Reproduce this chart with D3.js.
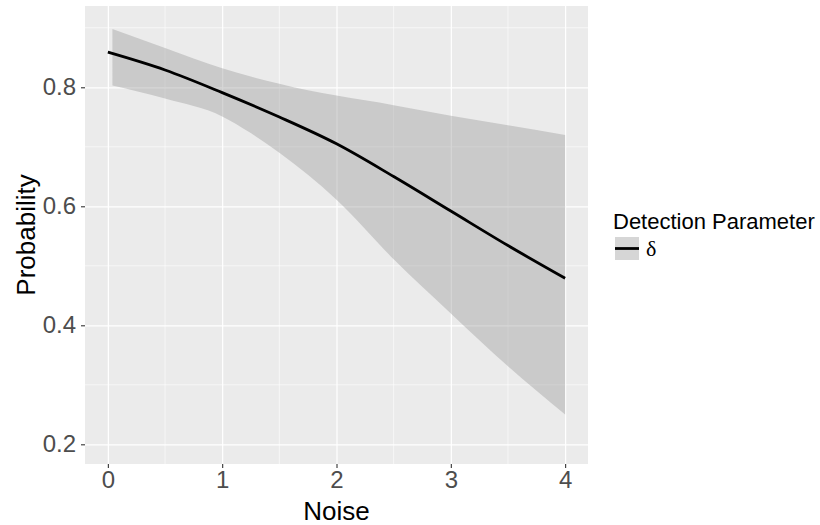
<!DOCTYPE html>
<html>
<head>
<meta charset="utf-8">
<script src="https://cdn.jsdelivr.net/npm/d3@7"></script>
<style>
  body { margin: 0; background: #fff; }
  svg { display: block; font-family: "Liberation Sans", Arial, sans-serif; }
</style>
</head>
<body>
<div id="chart"></div>
<script>
const width = 820;
const height = 525;

// fitted line (Noise -> Probability)
const lineNoise = [0, 0.5, 1, 1.5, 2, 2.5, 3, 3.5, 4];
const lineProb = [0.859, 0.829, 0.791, 0.750, 0.705, 0.650, 0.592, 0.534, 0.479];

// confidence band
const bandNoise = [0.04, 0.5, 1, 1.25, 1.5, 1.75, 2, 2.5, 3, 3.5, 4];
const bandUpper = [0.898, 0.866, 0.832, 0.818, 0.806, 0.795, 0.786, 0.770, 0.752, 0.736, 0.720];
const bandLower = [0.803, 0.781, 0.751, 0.723, 0.690, 0.653, 0.611, 0.511, 0.420, 0.331, 0.250];

const xTicks = [0, 1, 2, 3, 4];
const xMinor = [0.5, 1.5, 2.5, 3.5];
const yTicks = [0.2, 0.4, 0.6, 0.8];
const yMinor = [0.3, 0.5, 0.7, 0.9];

const legendTitle = 'Detection Parameter';
const legendLabel = 'δ';

const panel = { left: 85, right: 588, top: 6, bottom: 464 };

const x = d3.scaleLinear().domain([-0.2, 4.2]).range([panel.left, panel.right]);
const y = d3.scaleLinear().domain([0.1669, 0.9366]).range([panel.bottom, panel.top]);

const svg = d3.select('#chart')
  .append('svg')
  .attr('width', width)
  .attr('height', height);

// panel background
svg.append('rect')
  .attr('x', panel.left)
  .attr('y', panel.top)
  .attr('width', panel.right - panel.left)
  .attr('height', panel.bottom - panel.top)
  .attr('fill', '#EBEBEB');

// grid lines
const grid = svg.append('g');
grid.selectAll('.xminor').data(xMinor).join('line')
  .attr('x1', d => x(d)).attr('x2', d => x(d))
  .attr('y1', panel.top).attr('y2', panel.bottom)
  .attr('stroke', '#fff').attr('stroke-width', 0.6);
grid.selectAll('.yminor').data(yMinor).join('line')
  .attr('y1', d => y(d)).attr('y2', d => y(d))
  .attr('x1', panel.left).attr('x2', panel.right)
  .attr('stroke', '#fff').attr('stroke-width', 0.6);

const gx = svg.append('g')
  .attr('transform', `translate(0,${panel.bottom})`)
  .call(d3.axisBottom(x).tickValues(xTicks).tickFormat(d3.format('d'))
    .tickSizeInner(-(panel.bottom - panel.top)).tickSizeOuter(0).tickPadding(0));
gx.select('.domain').remove();
gx.selectAll('.tick line').attr('stroke', '#fff').attr('stroke-width', 1.2);
gx.selectAll('.tick text').remove();

const gy = svg.append('g')
  .attr('transform', `translate(${panel.left},0)`)
  .call(d3.axisLeft(y).tickValues(yTicks).tickFormat(d3.format('.1f'))
    .tickSizeInner(-(panel.right - panel.left)).tickSizeOuter(0));
gy.select('.domain').remove();
gy.selectAll('.tick line').attr('stroke', '#fff').attr('stroke-width', 1.2);
gy.selectAll('.tick text').remove();

// ribbon
const bandData = bandNoise.map((n, i) => ({ n, lo: bandLower[i], hi: bandUpper[i] }));
svg.append('path')
  .datum(bandData)
  .attr('fill', '#999999')
  .attr('fill-opacity', 0.4)
  .attr('d', d3.area().x(d => x(d.n)).y0(d => y(d.lo)).y1(d => y(d.hi)).curve(d3.curveMonotoneX));

// fitted line
const lineData = lineNoise.map((n, i) => ({ n, p: lineProb[i] }));
svg.append('path')
  .datum(lineData)
  .attr('fill', 'none')
  .attr('stroke', '#000')
  .attr('stroke-width', 2.8)
  .attr('d', d3.line().x(d => x(d.n)).y(d => y(d.p)).curve(d3.curveMonotoneX));

// outside axes (ticks + labels)
const axX = svg.append('g')
  .attr('transform', `translate(0,${panel.bottom})`)
  .call(d3.axisBottom(x).tickValues(xTicks).tickFormat(d3.format('d')).tickSize(4).tickPadding(3));
axX.select('.domain').remove();
axX.selectAll('.tick line').attr('stroke', '#333').attr('stroke-width', 1.1);
axX.selectAll('.tick text')
  .attr('fill', '#4D4D4D')
  .style('font-size', '24px')
  .style('font-family', '"Liberation Sans", Arial, sans-serif');

const axY = svg.append('g')
  .attr('transform', `translate(${panel.left},0)`)
  .call(d3.axisLeft(y).tickValues(yTicks).tickFormat(d3.format('.1f')).tickSize(4).tickPadding(5));
axY.select('.domain').remove();
axY.selectAll('.tick line').attr('stroke', '#333').attr('stroke-width', 1.1);
axY.selectAll('.tick text')
  .attr('fill', '#4D4D4D')
  .style('font-size', '24px')
  .style('font-family', '"Liberation Sans", Arial, sans-serif');

// axis titles
svg.append('text')
  .attr('x', (panel.left + panel.right) / 2)
  .attr('y', 520)
  .attr('text-anchor', 'middle')
  .style('font-size', '26px')
  .text('Noise');

svg.append('text')
  .attr('transform', `translate(35,${(panel.top + panel.bottom) / 2}) rotate(-90)`)
  .attr('text-anchor', 'middle')
  .style('font-size', '26px')
  .text('Probability');

// legend
const legend = svg.append('g').attr('transform', 'translate(613,0)');
legend.append('text')
  .attr('x', 0)
  .attr('y', 229)
  .style('font-size', '22px')
  .text(legendTitle);
legend.append('rect')
  .attr('x', 2).attr('y', 237)
  .attr('width', 24).attr('height', 23)
  .attr('fill', '#999999').attr('fill-opacity', 0.4);
legend.append('line')
  .attr('x1', 2).attr('x2', 26)
  .attr('y1', 248.5).attr('y2', 248.5)
  .attr('stroke', '#000').attr('stroke-width', 2.8);
legend.append('text')
  .attr('x', 33)
  .attr('y', 256)
  .style('font-size', '22px')
  .style('font-family', '"Liberation Serif", "DejaVu Serif", serif')
  .text(legendLabel);
</script>
</body>
</html>
